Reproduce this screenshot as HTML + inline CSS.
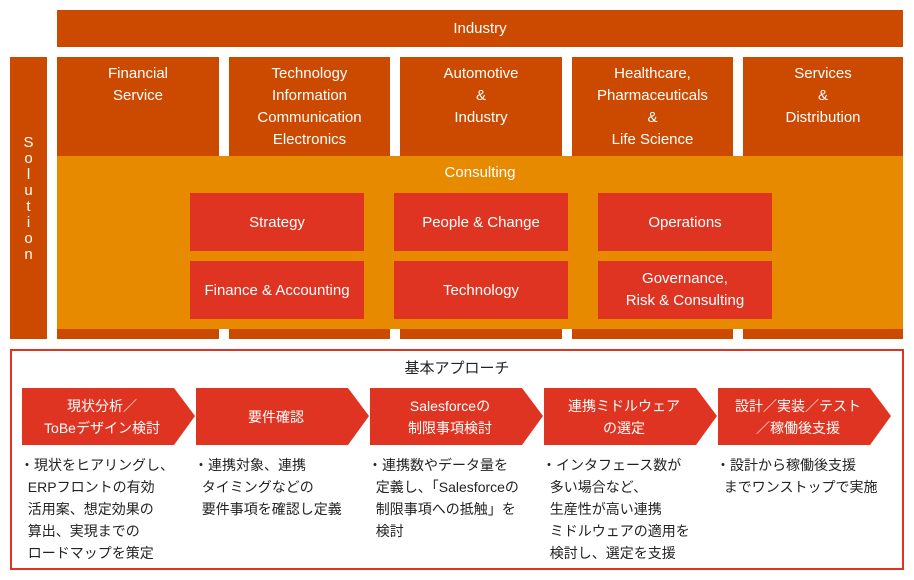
<!DOCTYPE html>
<html><head><meta charset="utf-8"><style>
body{margin:0;width:914px;height:580px;background:#fff;position:relative;font-family:"Liberation Sans","Noto Sans CJK JP",sans-serif;overflow:hidden}
.a{position:absolute;box-sizing:border-box;color:#fff;text-align:center}
.d{background:#cc4a00}
.r{background:#df3421;display:flex;align-items:center;justify-content:center;font-size:15px}
.col{font-size:15px;line-height:22px;padding-top:6px}
.t{position:absolute;font-size:14px;line-height:22px;color:#222;white-space:nowrap}
</style></head><body>
<div class="a d" style="left:57px;top:10px;width:846px;height:37px;line-height:37px;font-size:15px">Industry</div>
<div class="a d" style="left:10px;top:57px;width:37px;height:282px;font-size:15px;line-height:16px;padding-top:78px">S<br>o<br>l<br>u<br>t<br>i<br>o<br>n</div>
<div class="a d col" style="left:57px;top:57px;width:162px;height:282px">Financial<br>Service</div>
<div class="a d col" style="left:229px;top:57px;width:161px;height:282px">Technology<br>Information<br>Communication<br>Electronics</div>
<div class="a d col" style="left:400px;top:57px;width:162px;height:282px">Automotive<br>&amp;<br>Industry</div>
<div class="a d col" style="left:572px;top:57px;width:161px;height:282px">Healthcare,<br>Pharmaceuticals<br>&amp;<br>Life Science</div>
<div class="a d col" style="left:743px;top:57px;width:160px;height:282px">Services<br>&amp;<br>Distribution</div>
<div class="a" style="left:57px;top:156px;width:846px;height:173px;background:#e88a00;font-size:15px;line-height:34px">Consulting</div>
<div class="a r" style="left:190px;top:193px;width:174px;height:58px">Strategy</div>
<div class="a r" style="left:394px;top:193px;width:174px;height:58px">People &amp; Change</div>
<div class="a r" style="left:598px;top:193px;width:174px;height:58px">Operations</div>
<div class="a r" style="left:190px;top:261px;width:174px;height:58px">Finance &amp; Accounting</div>
<div class="a r" style="left:394px;top:261px;width:174px;height:58px">Technology</div>
<div class="a r" style="left:598px;top:261px;width:174px;height:58px;line-height:22px">Governance,<br>Risk &amp; Consulting</div>
<div style="position:absolute;left:10px;top:349px;width:894px;height:221px;border:2px solid #df3421;box-sizing:border-box"></div>
<div class="t" style="left:0;width:914px;text-align:center;top:358px;font-size:15px">基本アプローチ</div>
<svg style="position:absolute;left:0;top:0" width="914" height="580">
<g fill="#df3421">
<polygon points="22,388 174,388 195,416 174,445 22,445"/>
<polygon points="196,388 348,388 369,416 348,445 196,445"/>
<polygon points="370,388 522,388 543,416 522,445 370,445"/>
<polygon points="544,388 696,388 717,416 696,445 544,445"/>
<polygon points="718,388 870,388 891,416 870,445 718,445"/>
</g></svg>
<div class="a" style="left:22px;top:395px;width:160px;font-size:14px;line-height:22px">現状分析／<br>ToBeデザイン検討</div>
<div class="a" style="left:196px;top:406px;width:160px;font-size:14px;line-height:22px">要件確認</div>
<div class="a" style="left:370px;top:395px;width:160px;font-size:14px;line-height:22px">Salesforceの<br>制限事項検討</div>
<div class="a" style="left:544px;top:395px;width:160px;font-size:14px;line-height:22px">連携ミドルウェア<br>の選定</div>
<div class="a" style="left:718px;top:395px;width:160px;font-size:14px;line-height:22px">設計／実装／テスト<br>／稼働後支援</div>
<div class="t" style="left:20px;top:454px">・現状をヒアリングし、<br>&nbsp;&nbsp;ERPフロントの有効<br>&nbsp;&nbsp;活用案、想定効果の<br>&nbsp;&nbsp;算出、実現までの<br>&nbsp;&nbsp;ロードマップを策定</div>
<div class="t" style="left:194px;top:454px">・連携対象、連携<br>&nbsp;&nbsp;タイミングなどの<br>&nbsp;&nbsp;要件事項を確認し定義</div>
<div class="t" style="left:368px;top:454px">・連携数やデータ量を<br>&nbsp;&nbsp;定義し、「Salesforceの<br>&nbsp;&nbsp;制限事項への抵触」を<br>&nbsp;&nbsp;検討</div>
<div class="t" style="left:542px;top:454px">・インタフェース数が<br>&nbsp;&nbsp;多い場合など、<br>&nbsp;&nbsp;生産性が高い連携<br>&nbsp;&nbsp;ミドルウェアの適用を<br>&nbsp;&nbsp;検討し、選定を支援</div>
<div class="t" style="left:716px;top:454px">・設計から稼働後支援<br>&nbsp;&nbsp;までワンストップで実施</div>
</body></html>
